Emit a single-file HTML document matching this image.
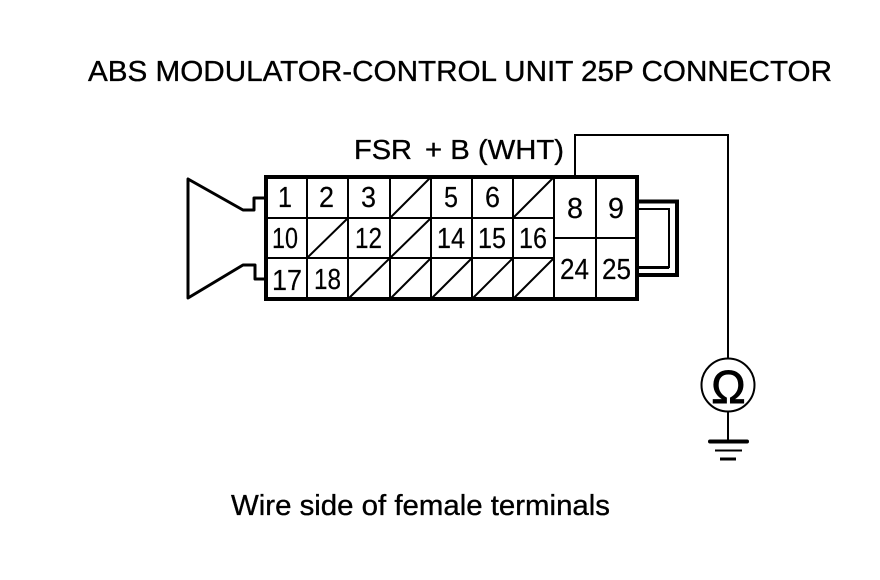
<!DOCTYPE html>
<html>
<head>
<meta charset="utf-8">
<style>
html,body{margin:0;padding:0;background:#fff;}
svg{display:block;}
text{font-family:"Liberation Sans",sans-serif;fill:#000;stroke:#000;stroke-width:.35px;}
.d text{font-size:29px;stroke-width:.2px;}
</style>
</head>
<body>
<svg width="880" height="580" viewBox="0 0 880 580" xmlns="http://www.w3.org/2000/svg">
<rect width="880" height="580" fill="#fff"/>
<text x="88" y="81" font-size="29" textLength="744" lengthAdjust="spacingAndGlyphs">ABS MODULATOR-CONTROL UNIT 25P CONNECTOR</text>
<text x="354" y="159" font-size="28" textLength="58" lengthAdjust="spacingAndGlyphs">FSR</text>
<text x="425" y="159" font-size="28" textLength="139" lengthAdjust="spacingAndGlyphs">+ B (WHT)</text>
<text x="231" y="515" font-size="28.5" textLength="379" lengthAdjust="spacingAndGlyphs">Wire side of female terminals</text>

<!-- plug -->
<path d="M266 198H254V210H243L188 179V298L243 265H255V279H266" fill="none" stroke="#000" stroke-width="3" stroke-linejoin="round"/>

<!-- grid -->
<g stroke="#000" stroke-width="2" fill="none">
<path d="M307 177V299M348 177V299M390 177V299M431 177V299M472 177V299M513 177V299M554 177V299M596 177V299"/>
<path d="M266 218H554M266 258H554M554 238H637"/>
<path d="M390 218L431 177M307 258L348 218M390 258L431 218M348 299L390 258M390 299L431 258M431 299L472 258M472 299L513 258M513 299L554 258M513 218L554 177"/>
<path d="M575 177V135H728V358"/>
<path d="M728 412V441"/>
</g>
<rect x="266" y="177" width="371" height="122" fill="none" stroke="#000" stroke-width="4"/>

<!-- loop -->
<path d="M637 201.500H677V275H637" fill="none" stroke="#000" stroke-width="4"/>
<path d="M637 209H669V267H637" fill="none" stroke="#000" stroke-width="2"/>
<path d="M637 267.500H669" stroke="#000" stroke-width="3"/>

<!-- digits -->
<g class="d">
<text x="278" y="207" textLength="14" lengthAdjust="spacingAndGlyphs">1</text>
<text x="319" y="207" textLength="15" lengthAdjust="spacingAndGlyphs">2</text>
<text x="361" y="207" textLength="15" lengthAdjust="spacingAndGlyphs">3</text>
<text x="444" y="207" textLength="14" lengthAdjust="spacingAndGlyphs">5</text>
<text x="485" y="207" textLength="15" lengthAdjust="spacingAndGlyphs">6</text>
<text x="272" y="248" textLength="26" lengthAdjust="spacingAndGlyphs">10</text>
<text x="355" y="248" textLength="27" lengthAdjust="spacingAndGlyphs">12</text>
<text x="437" y="248" textLength="28" lengthAdjust="spacingAndGlyphs">14</text>
<text x="478" y="248" textLength="28" lengthAdjust="spacingAndGlyphs">15</text>
<text x="519" y="248" textLength="28" lengthAdjust="spacingAndGlyphs">16</text>
<text x="272" y="290" textLength="30" lengthAdjust="spacingAndGlyphs">17</text>
<text x="314" y="289" textLength="27" lengthAdjust="spacingAndGlyphs">18</text>
<text x="567" y="218" textLength="16" lengthAdjust="spacingAndGlyphs">8</text>
<text x="608" y="218" textLength="16" lengthAdjust="spacingAndGlyphs">9</text>
<text x="560" y="279" textLength="29" lengthAdjust="spacingAndGlyphs">24</text>
<text x="602" y="279" textLength="29" lengthAdjust="spacingAndGlyphs">25</text>
</g>

<!-- ohm meter -->
<circle cx="728" cy="385" r="26.5" fill="#fff" stroke="#000" stroke-width="2"/>
<text x="728.5" y="403" font-size="46" text-anchor="middle" style="stroke-width:.9px">Ω</text>
<path d="M710 441.5H747" stroke="#000" stroke-width="4" stroke-linecap="round"/>
<path d="M715 450.5H742" stroke="#000" stroke-width="2"/>
<path d="M720 459H736" stroke="#000" stroke-width="3"/>
</svg>
</body>
</html>
